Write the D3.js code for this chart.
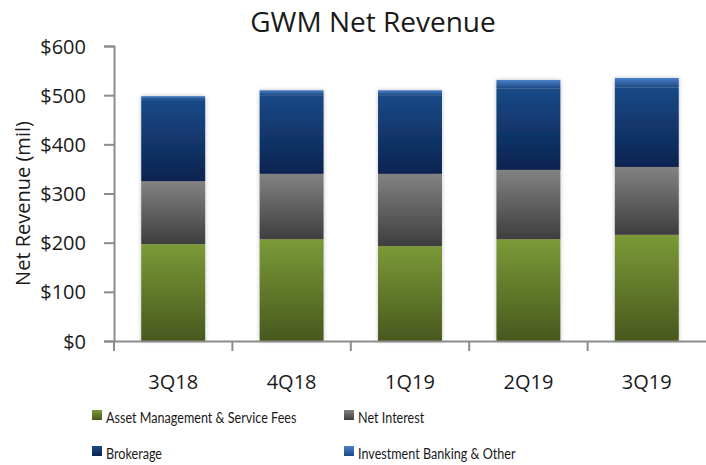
<!DOCTYPE html>
<html>
<head>
<meta charset="utf-8">
<script src="https://cdn.jsdelivr.net/npm/d3@7"></script>
<style>
  body { margin: 0; background: #fff; }
  text { font-family: "Open Sans", "DejaVu Sans", sans-serif; fill: #1a1a1a; }
</style>
</head>
<body>
<div id="chart"></div>
<script>
'use strict';

// Data
const quarters = ['3Q18', '4Q18', '1Q19', '2Q19', '3Q19'];
const seriesNames = ['Asset Management & Service Fees', 'Net Interest', 'Brokerage', 'Investment Banking & Other'];
const assetMgmt = [197, 207, 193, 207, 216];
const netInterest = [128, 133, 147, 141, 138];
const brokerage = [165, 160, 160, 166, 162];
const ibOther = [8, 10, 10, 17, 19];
const yTicks = [0, 100, 200, 300, 400, 500, 600];

// gradient stops per series (top, bottom)
const gradColors = [
  ['#7b9a37', '#48581e'],
  ['#828282', '#3e3e3e'],
  ['#1a4a87', '#0a2350'],
  ['#4a80c8', '#1d4a85']
];

const W = 706, H = 465;
const margin = { top: 46, right: 0, bottom: 124, left: 114 };
const width = W - margin.left - margin.right;
const height = H - margin.top - margin.bottom;

const rows = quarters.map((q, i) => ({
  q: q, s0: assetMgmt[i], s1: netInterest[i], s2: brokerage[i], s3: ibOther[i]
}));
const stack = d3.stack().keys(['s0', 's1', 's2', 's3'])(rows);

const x = d3.scaleBand().domain(quarters).range([0, width]).paddingInner(0.46).paddingOuter(0.23);
const y = d3.scaleLinear().domain([0, 600]).range([height, 0]);

const svg = d3.select('#chart').append('svg')
  .attr('width', W).attr('height', H);

const defs = svg.append('defs');
gradColors.forEach((c, i) => {
  const g = defs.append('linearGradient')
    .attr('id', 'grad' + i).attr('x1', 0).attr('y1', 0).attr('x2', 0).attr('y2', 1);
  g.append('stop').attr('offset', '0%').attr('stop-color', c[0]);
  g.append('stop').attr('offset', '100%').attr('stop-color', c[1]);
});
const shadow = defs.append('filter').attr('id', 'shadow')
  .attr('x', '-20%').attr('y', '-5%').attr('width', '140%').attr('height', '110%');
shadow.append('feGaussianBlur').attr('in', 'SourceAlpha').attr('stdDeviation', 2).attr('result', 'b');
shadow.append('feComponentTransfer').attr('in', 'b').attr('result', 'o2')
  .append('feFuncA').attr('type', 'linear').attr('slope', 0.25);
const merge = shadow.append('feMerge');
merge.append('feMergeNode').attr('in', 'o2');
merge.append('feMergeNode').attr('in', 'SourceGraphic');

// Title
svg.append('text')
  .attr('x', 373).attr('y', 32)
  .attr('text-anchor', 'middle')
  .style('font-size', '28px')
  .text('GWM Net Revenue');

const g = svg.append('g')
  .attr('transform', 'translate(' + margin.left + ',' + margin.top + ')');

// Bars
const barGroups = g.selectAll('.bar')
  .data(quarters)
  .enter().append('g')
  .attr('class', 'bar')
  .attr('filter', 'url(#shadow)');

barGroups.each(function (q, qi) {
  stack.forEach((layer, li) => {
    const d = layer[qi];
    d3.select(this).append('rect')
      .attr('x', x(q))
      .attr('width', x.bandwidth())
      .attr('y', y(d[1]))
      .attr('height', y(d[0]) - y(d[1]))
      .attr('fill', 'url(#grad' + li + ')');
  });
});

// Y axis
const yAxis = g.append('g')
  .call(d3.axisLeft(y).tickValues(yTicks).tickSize(10).tickPadding(18)
    .tickFormat(d => '$' + d));
yAxis.select('.domain').attr('stroke', '#8c8c8c').attr('stroke-width', 2);
yAxis.selectAll('.tick line').attr('stroke', '#8c8c8c').attr('stroke-width', 2);
yAxis.selectAll('.tick text').style('font-size', '20px').attr('fill', '#1a1a1a').attr('dy', '0.35em');

// X axis
const xAxis = g.append('g')
  .attr('transform', 'translate(0,' + height + ')')
  .call(d3.axisBottom(x).tickSize(0).tickPadding(34));
xAxis.select('.domain').attr('stroke', '#8c8c8c').attr('stroke-width', 2);
xAxis.selectAll('.tick text').style('font-size', '20px').attr('fill', '#1a1a1a');
// category separator ticks
g.selectAll('.sep')
  .data(quarters)
  .enter().append('line')
  .attr('class', 'sep')
  .attr('x1', d => x(d) - x.step() * x.paddingInner() / 2)
  .attr('x2', d => x(d) - x.step() * x.paddingInner() / 2)
  .attr('y1', height).attr('y2', height + 10)
  .attr('stroke', '#8c8c8c').attr('stroke-width', 2);

// Y axis title
svg.append('text')
  .attr('transform', 'translate(30,' + (margin.top + height / 2 + 10) + ') rotate(-90)')
  .attr('text-anchor', 'middle')
  .style('font-size', '20px')
  .text('Net Revenue (mil)');

// Legend
const legendPos = [[92, 410], [344, 410], [92, 446], [344, 446]];
const legend = svg.selectAll('.legend')
  .data(seriesNames)
  .enter().append('g')
  .attr('class', 'legend')
  .attr('transform', (d, i) => 'translate(' + legendPos[i][0] + ',' + legendPos[i][1] + ')');
legend.append('rect')
  .attr('width', 10).attr('height', 10)
  .attr('fill', (d, i) => 'url(#grad' + i + ')');
legend.append('text')
  .attr('transform', 'translate(14,13) scale(0.84,1)')
  .style('font-family', 'Lato, "Open Sans", sans-serif')
  .style('font-size', '15px')
  .text(d => d);
</script>
</body>
</html>
